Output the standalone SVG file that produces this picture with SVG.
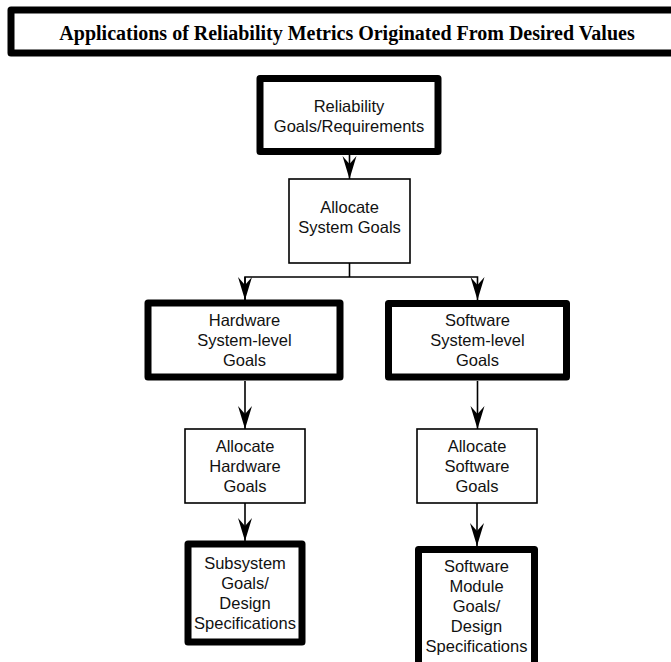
<svg xmlns="http://www.w3.org/2000/svg" width="671" height="662" viewBox="0 0 671 662">
<style>
.thick{fill:#fff;stroke:#000;stroke-width:7;stroke-linejoin:round}
.thin{fill:#fff;stroke:#000;stroke-width:1.6}
.t{font-family:"Liberation Sans",Arial,sans-serif;font-size:16.5px;text-anchor:middle;fill:#111}
.title{font-family:"Liberation Serif","Times New Roman",serif;font-size:20px;font-weight:bold;text-anchor:middle;fill:#000}
.c{fill:none;stroke:#000;stroke-width:1.6}
</style>
<defs>
<marker id="ah" markerUnits="userSpaceOnUse" markerWidth="26" markerHeight="16" viewBox="-23 -8 26 16" refX="0" refY="0" orient="auto">
<path d="M0,0 L-23,-7 L-15,0 L-23,7 Z" fill="#000"/>
</marker>
</defs>
<g id="title">
<rect x="11" y="10" width="680" height="43" class="thick"/>
<text class="title" x="347" y="40">Applications of Reliability Metrics Originated From Desired Values</text>
</g>
<g id="connectors">
<line class="c" x1="349.5" y1="155" x2="349.5" y2="179" marker-end="url(#ah)"/>
<polyline class="c" points="349.5,263 349.5,277"/>
<polyline class="c" points="245,300 245,277 477.5,277 477.5,300" marker-end="url(#ah)"/>
<line class="c" x1="245" y1="277" x2="245" y2="300" marker-end="url(#ah)"/>
<line class="c" x1="245" y1="381" x2="245" y2="429" marker-end="url(#ah)"/>
<line class="c" x1="477.5" y1="381" x2="477.5" y2="429" marker-end="url(#ah)"/>
<line class="c" x1="245" y1="503" x2="245" y2="541" marker-end="url(#ah)"/>
<line class="c" x1="477" y1="503" x2="477" y2="546" marker-end="url(#ah)"/>
</g>
<g id="reliability-goals">
<rect x="260" y="78.5" width="178" height="73" class="thick"/>
<text class="t" x="349" y="112">Reliability</text>
<text class="t" x="349" y="132">Goals/Requirements</text>
</g>
<g id="allocate-system">
<rect x="289" y="179" width="121" height="84" class="thin"/>
<text class="t" x="349.5" y="213">Allocate</text>
<text class="t" x="349.5" y="233">System Goals</text>
</g>
<g id="hardware-system">
<rect x="148" y="303" width="192" height="74" class="thick"/>
<text class="t" x="244.5" y="326">Hardware</text>
<text class="t" x="244.5" y="346">System-level</text>
<text class="t" x="244.5" y="366">Goals</text>
</g>
<g id="software-system">
<rect x="388.5" y="303.5" width="178" height="73.5" class="thick"/>
<text class="t" x="477.5" y="326">Software</text>
<text class="t" x="477.5" y="346">System-level</text>
<text class="t" x="477.5" y="366">Goals</text>
</g>
<g id="allocate-hardware">
<rect x="185" y="429" width="120" height="74" class="thin"/>
<text class="t" x="245" y="452">Allocate</text>
<text class="t" x="245" y="472">Hardware</text>
<text class="t" x="245" y="492">Goals</text>
</g>
<g id="allocate-software">
<rect x="417" y="429" width="120" height="74" class="thin"/>
<text class="t" x="477" y="452">Allocate</text>
<text class="t" x="477" y="472">Software</text>
<text class="t" x="477" y="492">Goals</text>
</g>
<g id="subsystem-goals">
<rect x="188" y="544" width="114" height="98" class="thick"/>
<text class="t" x="245" y="569">Subsystem</text>
<text class="t" x="245" y="589">Goals/</text>
<text class="t" x="245" y="609">Design</text>
<text class="t" x="245" y="629">Specifications</text>
</g>
<g id="software-module-goals">
<rect x="418.5" y="549.5" width="116" height="120" class="thick"/>
<text class="t" x="476.5" y="572">Software</text>
<text class="t" x="476.5" y="592">Module</text>
<text class="t" x="476.5" y="612">Goals/</text>
<text class="t" x="476.5" y="632">Design</text>
<text class="t" x="476.5" y="652">Specifications</text>
</g>
</svg>
